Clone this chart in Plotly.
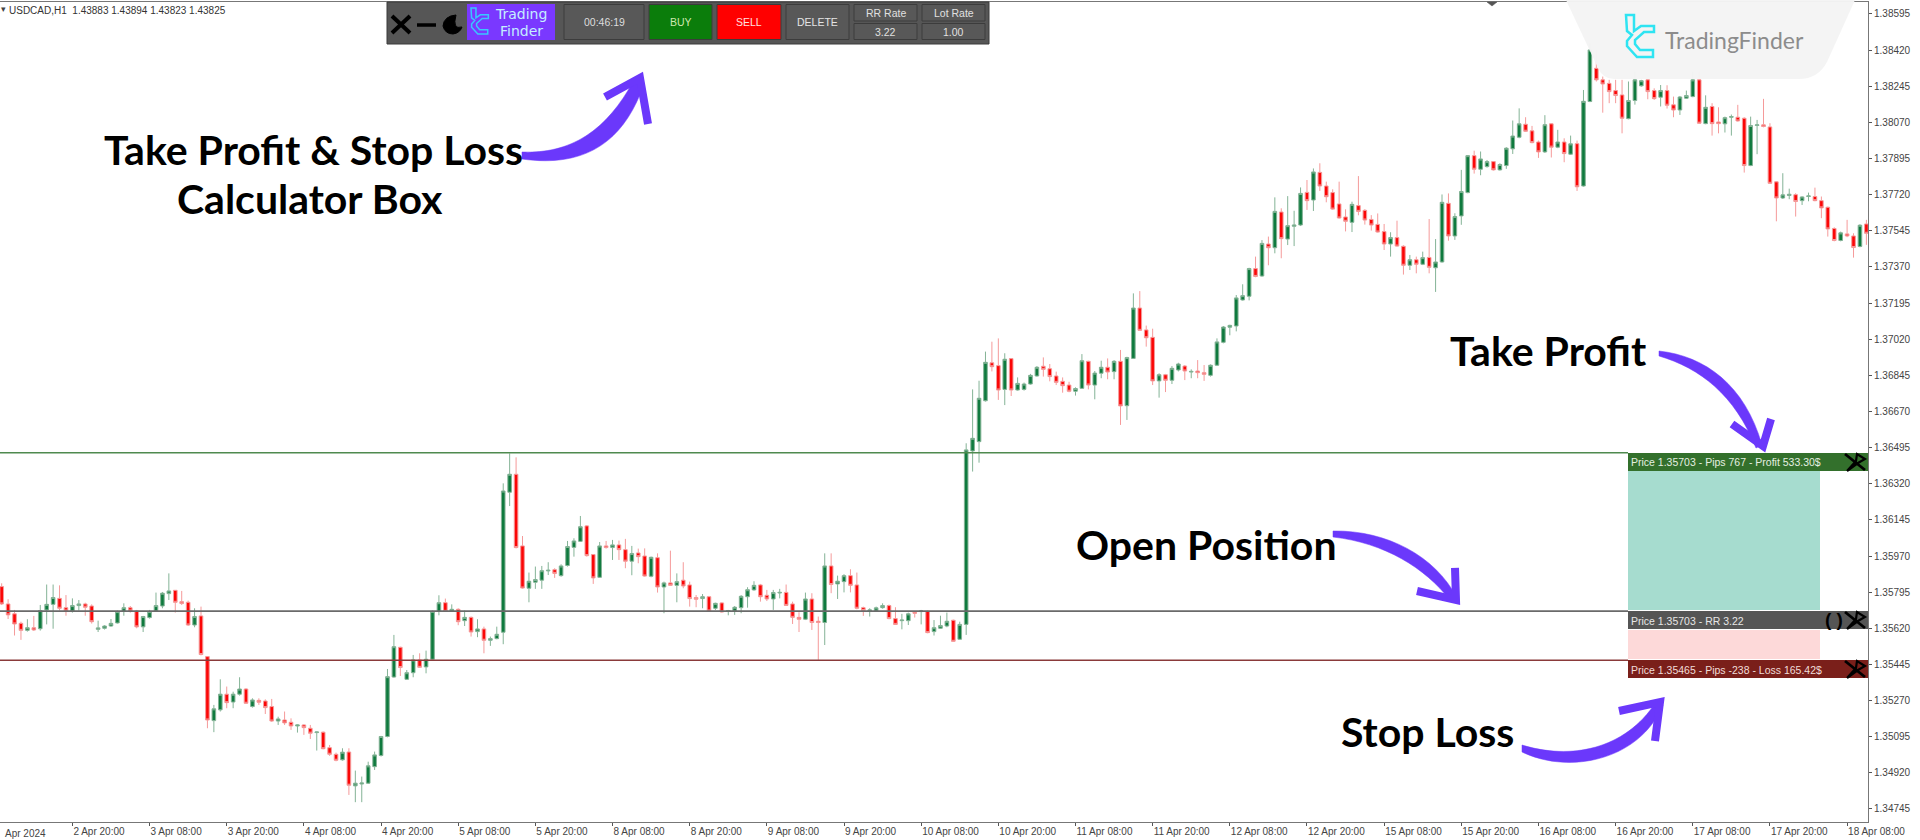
import plotly.graph_objects as go

opens = [1.35822,1.35738,1.35690,1.35644,1.35610,1.35623,1.35618,1.35709,1.35736,1.35765,
1.35720,1.35704,1.35730,1.35738,1.35728,1.35615,1.35620,1.35631,1.35646,1.35702,
1.35720,1.35704,1.35627,1.35672,1.35704,1.35728,1.35788,1.35804,1.35749,1.35746,
1.35636,1.35680,1.35483,1.35173,1.35225,1.35301,1.35263,1.35301,1.35326,1.35241,
1.35271,1.35268,1.35241,1.35171,1.35176,1.35165,1.35147,1.35152,1.35136,1.35115,
1.35117,1.35042,1.35010,1.34983,1.35021,1.34857,1.34866,1.34870,1.34950,1.35004,
1.35096,1.35384,1.35528,1.35373,1.35405,1.35467,1.35433,1.35470,1.35702,1.35744,
1.35702,1.35712,1.35657,1.35673,1.35604,1.35617,1.35562,1.35570,1.35601,1.36279,
1.36366,1.36019,1.35814,1.35843,1.35853,1.35898,1.35904,1.35875,1.35924,1.36012,
1.36041,1.36116,1.35977,1.35867,1.36019,1.36011,1.36024,1.36001,1.35945,1.35985,
1.35970,1.35872,1.35962,1.35820,1.35840,1.35828,1.35853,1.35830,1.35769,1.35764,
1.35773,1.35717,1.35743,1.35702,1.35704,1.35720,1.35773,1.35806,1.35830,1.35780,
1.35762,1.35791,1.35794,1.35738,1.35673,1.35664,1.35762,1.35654,1.35648,1.35922,
1.35835,1.35846,1.35875,1.35830,1.35720,1.35704,1.35704,1.35720,1.35730,1.35667,
1.35657,1.35657,1.35698,1.35701,1.35702,1.35604,1.35620,1.35631,1.35659,1.35567,
1.35639,1.36479,1.36524,1.36722,1.36906,1.36892,1.36777,1.36926,1.36774,1.36777,
1.36803,1.36842,1.36889,1.36877,1.36842,1.36816,1.36798,1.36768,1.36782,1.36913,
1.36798,1.36855,1.36884,1.36863,1.36913,1.36698,1.36927,1.37171,1.37065,1.37029,
1.36818,1.36848,1.36821,1.36871,1.36890,1.36861,1.36866,1.36858,1.36845,1.36894,
1.37005,1.37078,1.37084,1.37210,1.37228,1.37362,1.37326,1.37481,1.37463,1.37636,
1.37505,1.37567,1.37573,1.37731,1.37694,1.37828,1.37762,1.37730,1.37675,1.37612,
1.37586,1.37667,1.37644,1.37600,1.37576,1.37541,1.37481,1.37512,1.37470,1.37378,
1.37405,1.37383,1.37416,1.37366,1.37394,1.37678,1.37520,1.37617,1.37730,1.37909,
1.37843,1.37856,1.37880,1.37840,1.37861,1.37942,1.37998,1.38061,1.38029,1.37975,
1.37927,1.38063,1.37950,1.37975,1.37916,1.37967,1.37762,1.38171,1.38332,1.38276,
1.38259,1.38224,1.38203,1.38088,1.38176,1.38247,1.38276,1.38224,1.38192,1.38224,
1.38155,1.38130,1.38187,1.38195,1.38276,1.38064,1.38147,1.38072,1.38063,1.38095,
1.38095,1.38090,1.37861,1.38055,1.38058,1.38048,1.37782,1.37704,1.37716,1.37720,
1.37691,1.37711,1.37711,1.37691,1.37659,1.37556,1.37498,1.37530,1.37520,1.37469,
1.37578]

highs = [1.35838,1.35761,1.35709,1.35652,1.35664,1.35680,1.35733,1.35832,1.35832,1.35828,
1.35781,1.35765,1.35757,1.35744,1.35736,1.35657,1.35635,1.35665,1.35706,1.35741,
1.35728,1.35709,1.35680,1.35709,1.35793,1.35796,1.35886,1.35804,1.35801,1.35754,
1.35717,1.35725,1.35483,1.35249,1.35373,1.35338,1.35313,1.35383,1.35330,1.35281,
1.35281,1.35276,1.35278,1.35192,1.35217,1.35184,1.35155,1.35155,1.35152,1.35120,
1.35120,1.35055,1.35018,1.35039,1.35039,1.34931,1.34902,1.34974,1.35023,1.35099,
1.35423,1.35588,1.35531,1.35418,1.35491,1.35499,1.35512,1.35706,1.35780,1.35764,
1.35736,1.35717,1.35706,1.35677,1.35664,1.35628,1.35580,1.35628,1.36322,1.36467,
1.36448,1.36067,1.35890,1.35919,1.35922,1.35940,1.35911,1.35930,1.36043,1.36056,
1.36164,1.36120,1.35980,1.36038,1.36043,1.36048,1.36045,1.36053,1.36019,1.36006,
1.36007,1.35967,1.35983,1.35846,1.35996,1.35886,1.35940,1.35846,1.35781,1.35786,
1.35777,1.35744,1.35746,1.35709,1.35728,1.35781,1.35819,1.35848,1.35835,1.35806,
1.35806,1.35811,1.35832,1.35749,1.35698,1.35793,1.35790,1.35677,1.35983,1.35983,
1.35875,1.35882,1.35906,1.35890,1.35725,1.35717,1.35725,1.35741,1.35735,1.35722,
1.35690,1.35696,1.35702,1.35709,1.35706,1.35660,1.35681,1.35696,1.35662,1.35652,
1.36516,1.36777,1.36819,1.36960,1.37008,1.37024,1.36952,1.36929,1.36835,1.36810,
1.36852,1.36890,1.36932,1.36900,1.36863,1.36835,1.36814,1.36787,1.36948,1.36916,
1.36866,1.36916,1.36927,1.36919,1.36968,1.36935,1.37242,1.37253,1.37086,1.37071,
1.36855,1.36852,1.36890,1.36906,1.36895,1.36874,1.36919,1.36895,1.36898,1.37024,
1.37084,1.37090,1.37234,1.37286,1.37366,1.37420,1.37500,1.37517,1.37707,1.37654,
1.37713,1.37642,1.37755,1.37791,1.37847,1.37872,1.37783,1.37746,1.37783,1.37649,
1.37686,1.37810,1.37650,1.37621,1.37629,1.37578,1.37538,1.37594,1.37475,1.37428,
1.37420,1.37444,1.37602,1.37505,1.37721,1.37726,1.37630,1.37840,1.37912,1.37933,
1.37929,1.37888,1.37883,1.37872,1.37950,1.38079,1.38138,1.38095,1.38053,1.37982,
1.38105,1.38066,1.38034,1.37993,1.38006,1.37982,1.38227,1.38453,1.38421,1.38292,
1.38276,1.38276,1.38276,1.38268,1.38316,1.38276,1.38279,1.38235,1.38251,1.38250,
1.38195,1.38198,1.38224,1.38316,1.38316,1.38201,1.38163,1.38143,1.38098,1.38108,
1.38155,1.38095,1.38098,1.38082,1.38184,1.38066,1.37785,1.37824,1.37749,1.37727,
1.37712,1.37730,1.37754,1.37711,1.37662,1.37562,1.37541,1.37598,1.37533,1.37577,
1.37598]

lows = [1.35733,1.35665,1.35585,1.35564,1.35604,1.35607,1.35609,1.35639,1.35618,1.35706,
1.35681,1.35696,1.35706,1.35681,1.35643,1.35602,1.35614,1.35628,1.35643,1.35681,
1.35696,1.35620,1.35602,1.35667,1.35701,1.35717,1.35757,1.35696,1.35733,1.35631,
1.35625,1.35489,1.35136,1.35117,1.35217,1.35233,1.35233,1.35294,1.35254,1.35236,
1.35249,1.35205,1.35167,1.35152,1.35152,1.35128,1.35115,1.35104,1.35084,1.35028,
1.35034,1.35002,1.34976,1.34979,1.34813,1.34778,1.34778,1.34866,1.34934,1.34999,
1.35092,1.35381,1.35389,1.35370,1.35383,1.35428,1.35402,1.35467,1.35683,1.35699,
1.35699,1.35635,1.35631,1.35580,1.35577,1.35499,1.35535,1.35567,1.35543,1.36212,
1.36007,1.35812,1.35746,1.35811,1.35811,1.35878,1.35864,1.35870,1.35919,1.35967,
1.36038,1.35967,1.35835,1.35864,1.36006,1.35951,1.35951,1.35911,1.35877,1.35935,
1.35870,1.35867,1.35793,1.35693,1.35825,1.35746,1.35814,1.35725,1.35722,1.35717,
1.35701,1.35709,1.35696,1.35683,1.35685,1.35693,1.35720,1.35802,1.35749,1.35752,
1.35709,1.35765,1.35728,1.35641,1.35602,1.35660,1.35612,1.35467,1.35539,1.35790,
1.35762,1.35794,1.35794,1.35712,1.35680,1.35677,1.35699,1.35715,1.35664,1.35636,
1.35615,1.35636,1.35672,1.35639,1.35596,1.35585,1.35618,1.35625,1.35554,1.35564,
1.35588,1.36379,1.36422,1.36718,1.36864,1.36726,1.36701,1.36745,1.36771,1.36771,
1.36800,1.36839,1.36839,1.36816,1.36798,1.36761,1.36763,1.36747,1.36779,1.36777,
1.36729,1.36831,1.36826,1.36826,1.36605,1.36629,1.36924,1.37060,1.36984,1.36798,
1.36737,1.36764,1.36803,1.36864,1.36822,1.36831,1.36831,1.36818,1.36839,1.36890,
1.37000,1.37039,1.37058,1.37207,1.37208,1.37320,1.37323,1.37378,1.37436,1.37412,
1.37476,1.37471,1.37568,1.37646,1.37641,1.37738,1.37683,1.37646,1.37604,1.37542,
1.37539,1.37620,1.37575,1.37546,1.37536,1.37452,1.37420,1.37468,1.37333,1.37355,
1.37339,1.37379,1.37339,1.37249,1.37391,1.37497,1.37501,1.37574,1.37727,1.37822,
1.37814,1.37851,1.37837,1.37837,1.37845,1.37917,1.37993,1.38024,1.37969,1.37898,
1.37922,1.37900,1.37945,1.37877,1.37912,1.37738,1.37759,1.38168,1.38268,1.38117,
1.38163,1.38163,1.38017,1.38085,1.38156,1.38243,1.38182,1.38179,1.38147,1.38137,
1.38095,1.38106,1.38184,1.38192,1.38063,1.38061,1.38006,1.38017,1.38021,1.38006,
1.38074,1.37827,1.37858,1.37916,1.38046,1.37772,1.37591,1.37699,1.37698,1.37614,
1.37670,1.37688,1.37688,1.37606,1.37517,1.37494,1.37494,1.37514,1.37415,1.37465,
1.37477]

closes = [1.35738,1.35685,1.35641,1.35610,1.35623,1.35612,1.35706,1.35736,1.35769,1.35717,
1.35704,1.35730,1.35738,1.35722,1.35652,1.35622,1.35631,1.35644,1.35701,1.35720,
1.35704,1.35627,1.35677,1.35701,1.35730,1.35790,1.35801,1.35746,1.35740,1.35636,
1.35677,1.35493,1.35176,1.35230,1.35301,1.35260,1.35301,1.35326,1.35257,1.35273,
1.35262,1.35236,1.35171,1.35181,1.35162,1.35147,1.35152,1.35139,1.35112,1.35118,
1.35037,1.35010,1.34981,1.35020,1.34860,1.34870,1.34871,1.34954,1.35007,1.35096,
1.35386,1.35531,1.35430,1.35405,1.35467,1.35431,1.35470,1.35702,1.35744,1.35702,
1.35712,1.35652,1.35673,1.35602,1.35617,1.35562,1.35570,1.35591,1.36285,1.36366,
1.36011,1.35815,1.35848,1.35856,1.35899,1.35901,1.35886,1.35922,1.36016,1.36043,
1.36112,1.35972,1.35864,1.36019,1.36011,1.36024,1.36001,1.35945,1.35982,1.35967,
1.35873,1.35964,1.35820,1.35840,1.35828,1.35846,1.35825,1.35764,1.35761,1.35773,
1.35704,1.35741,1.35699,1.35706,1.35722,1.35775,1.35807,1.35828,1.35773,1.35762,
1.35793,1.35794,1.35731,1.35673,1.35664,1.35762,1.35648,1.35648,1.35922,1.35832,
1.35848,1.35875,1.35828,1.35717,1.35706,1.35709,1.35719,1.35730,1.35667,1.35639,
1.35660,1.35690,1.35693,1.35704,1.35599,1.35623,1.35633,1.35654,1.35557,1.35639,
1.36484,1.36540,1.36734,1.36908,1.36887,1.36774,1.36923,1.36774,1.36806,1.36803,
1.36845,1.36884,1.36874,1.36839,1.36811,1.36795,1.36768,1.36781,1.36916,1.36798,
1.36856,1.36884,1.36861,1.36913,1.36697,1.36931,1.37171,1.37063,1.37027,1.36818,
1.36848,1.36821,1.36879,1.36900,1.36866,1.36864,1.36858,1.36850,1.36894,1.37007,
1.37079,1.37087,1.37220,1.37231,1.37362,1.37324,1.37484,1.37463,1.37639,1.37507,
1.37570,1.37573,1.37726,1.37691,1.37830,1.37762,1.37710,1.37650,1.37607,1.37591,
1.37673,1.37639,1.37597,1.37573,1.37539,1.37481,1.37512,1.37471,1.37378,1.37405,
1.37383,1.37415,1.37368,1.37394,1.37683,1.37520,1.37614,1.37735,1.37909,1.37843,
1.37893,1.37880,1.37840,1.37866,1.37945,1.38004,1.38063,1.38027,1.37972,1.37927,
1.38059,1.37950,1.37975,1.37919,1.37966,1.37758,1.38172,1.38421,1.38276,1.38256,
1.38219,1.38200,1.38090,1.38176,1.38276,1.38272,1.38219,1.38185,1.38224,1.38153,
1.38130,1.38193,1.38200,1.38276,1.38066,1.38143,1.38064,1.38064,1.38093,1.38098,
1.38077,1.37861,1.38055,1.38058,1.38050,1.37775,1.37704,1.37719,1.37722,1.37687,
1.37709,1.37714,1.37691,1.37656,1.37554,1.37498,1.37535,1.37520,1.37464,1.37572,
1.37533]

bar_index = list(range(len(opens)))

price_ticks = [1.38595,1.38420,1.38245,1.38070,1.37895,1.37720,1.37545,1.37370,1.37195,1.37020,1.36845,
               1.36670,1.36495,1.36320,1.36145,1.35970,1.35795,1.35620,1.35445,1.35270,1.35095,1.34920,1.34745]
time_tick_bars = [11,23,35,47,59,71,83,95,107,119,131,143,155,167,179,191,203,215,227,239,251,263,275,287]
time_tick_labels = ["2 Apr 20:00","3 Apr 08:00","3 Apr 20:00","4 Apr 08:00","4 Apr 20:00","5 Apr 08:00",
                    "5 Apr 20:00","8 Apr 08:00","8 Apr 20:00","9 Apr 08:00","9 Apr 20:00","10 Apr 08:00",
                    "10 Apr 20:00","11 Apr 08:00","11 Apr 20:00","12 Apr 08:00","12 Apr 20:00","15 Apr 08:00",
                    "15 Apr 20:00","16 Apr 08:00","16 Apr 20:00","17 Apr 08:00","17 Apr 20:00","18 Apr 08:00"]
take_profit = 1.36470
entry = 1.35703
stop_loss = 1.35465

PLOT_W, PLOT_H, TOP = 1868, 820, 2
def xp(px): return px / PLOT_W
def yp(py): return (TOP + PLOT_H - py) / PLOT_H

def path(cmds):
    """cmds: list of tuples (letter, px, py, ...) in page pixels -> paper path string"""
    out = []
    for c in cmds:
        if c[0] == "Z":
            out.append("Z"); continue
        nums = c[1:]
        pts = []
        for k in range(0, len(nums), 2):
            pts.append(f"{xp(nums[k]):.5f},{yp(nums[k+1]):.5f}")
        out.append(c[0] + " ".join(pts))
    return " ".join(out)

shapes, annos = [], []
def rect(x0, y0, x1, y1, fill, line=None, lw=0):
    shapes.append(dict(type="rect", xref="paper", yref="paper", x0=xp(x0), x1=xp(x1), y0=yp(y1), y1=yp(y0),
                       fillcolor=fill, line=dict(color=line or fill, width=lw)))
def stroke(cmds, color, w, fill=None):
    shapes.append(dict(type="path", xref="paper", yref="paper", path=path(cmds),
                       line=dict(color=color, width=w), fillcolor=fill or "rgba(0,0,0,0)"))
def text(x, y, s, size, color, family="Liberation Sans", anchor="center"):
    annos.append(dict(xref="paper", yref="paper", x=xp(x), y=yp(y), text=s, showarrow=False, xanchor=anchor,
                      yanchor="middle", align=anchor, font=dict(size=size, color=color, family=family)))

# price levels
for lvl, col in ((take_profit, "#4f8a4f"), (entry, "#6a6a6a"), (stop_loss, "#8a3a3a")):
    shapes.append(dict(type="line", xref="paper", yref="y", x0=0, x1=xp(1628), y0=lvl, y1=lvl,
                       line=dict(color=col, width=1.6)))

# position boxes
rect(1628, 471, 1820, 610, "#a6dccf")
rect(1628, 630, 1820, 659, "#fdd9d9")
rect(1628, 453, 1868, 471, "#33702c")
rect(1628, 611, 1868, 629, "#555555")
rect(1628, 660, 1868, 678, "#7a1f1a")
text(1629, 462.5, "Price 1.35703 - Pips 767 - Profit 533.30$", 10.5, "#e4efe0", anchor="left")
text(1629, 620.5, "Price 1.35703 - RR 3.22", 10.5, "#e6e6e6", anchor="left")
text(1629, 670, "Price 1.35465 - Pips -238 - Loss 165.42$", 10.5, "#f0dcd8", anchor="left")
for cy in (462, 620, 669):
    cx = 1855
    stroke([("M", cx-10, cy-8), ("L", cx+10, cy+8)], "#000000", 2.8)
    stroke([("M", cx-8, cy+9), ("L", cx+1, cy-1), ("L", cx+2, cy-8), ("L", cx+10, cy-3), ("L", cx+3, cy+1), ("L", cx-8, cy+9)], "#000000", 2.2)
text(1834, 619, "<b>( )</b>", 19, "#000000")

# header text
text(-1, 9, "\u25be", 9, "#444444", anchor="left")
text(7, 10, "USDCAD,H1&nbsp; 1.43883 1.43894 1.43823 1.43825", 10, "#333333", anchor="left")
text(3, 833, "Apr 2024", 10, "#444444", anchor="left")

# toolbar
rect(387, 2, 989, 44, "#565656", "#3a3a3a", 1)
stroke([("M", 392, 16), ("L", 410, 33)], "#000000", 4)
stroke([("M", 410, 16), ("L", 392, 33)], "#000000", 4)
stroke([("M", 417, 25), ("L", 436, 25)], "#000000", 3.5)
stroke([("M", 456, 15), ("Q", 444, 16, 443, 26), ("Q", 445, 34, 453, 34), ("Q", 460, 33, 462, 27), ("Q", 452, 30, 456, 15), ("Z",)], "#000000", 1, "#000000")
rect(467, 4, 555, 40, "#7a38ff")
text(521, 13.5, "Trading", 14, "#c4eeff", "DejaVu Sans")
text(521, 31, "Finder", 14, "#c4eeff", "DejaVu Sans")
for x0, x1, fill, label, col in ((564, 644, "#585858", "00:46:19", "#dddddd"),
                                 (649, 712, "#0b7d0b", "BUY", "#cfe8b0"),
                                 (717, 781, "#ff0000", "SELL", "#ffe0e0"),
                                 (786, 849, "#585858", "DELETE", "#e4e4e4")):
    rect(x0, 4.5, x1, 39.5, fill, "#3c3c3c", 1)
    text((x0+x1)/2, 22, label, 10.5, col)
for x0, x1, top, bottom in ((854, 917, "RR Rate", "3.22"), (922, 985, "Lot Rate", "1.00")):
    rect(x0, 4.5, x1, 21, "#585858", "#3c3c3c", 1)
    rect(x0, 23.5, x1, 39.5, "#585858", "#3c3c3c", 1)
    text((x0+x1)/2, 13, top, 10.5, "#e0e0e0")
    text((x0+x1)/2, 32, bottom, 10.5, "#e0e0e0")

# icon outline shared by both logos
ICON = [(0,0),(8,0),(8,16),(15,11),(28,11),(28,17),(18,17),(9,25),(9,29),(14,35),(27,35),(27,42),(11,42),(1,31),(1,26),(6,20),(1,16)]
def icon(ox, oy, k, color, w):
    cmds = [("M" if n == 0 else "L", ox+p[0]*k, oy+p[1]*k) for n, p in enumerate(ICON)] + [("Z",)]
    stroke(cmds, color, w)
icon(471, 8, 0.62, "#38c8ff", 1.5)

# watermark
stroke([("M", 1566, 0), ("L", 1855, 0), ("L", 1827, 62), ("Q", 1818, 79, 1799, 79), ("L", 1614, 79),
        ("Q", 1603, 79, 1598, 68), ("Z",)], "rgba(0,0,0,0)", 0, "rgba(244,244,244,0.97)")
icon(1626, 15, 1.0, "#2ee4f2", 2.5)
text(1734, 40, "TradingFinder", 23, "#8c8c8c", "Lato")

# headlines
HEAD = "Lato"
HSIZE = 41
text(313, 149, "<b>Take Profit & Stop Loss</b>", HSIZE, "#000000", HEAD)
text(310, 198, "<b>Calculator Box</b>", HSIZE, "#000000", HEAD)
text(1548, 350, "<b>Take Profit</b>", HSIZE, "#000000", HEAD)
text(1206, 545, "<b>Open Position</b>", HSIZE, "#000000", HEAD)
text(1427, 731, "<b>Stop Loss</b>", HSIZE, "#000000", HEAD)

# hand drawn arrows
PURPLE = "#6b38fb"
def arrow(body, head):
    stroke(body + [("Z",)], PURPLE, 0.5, PURPLE)
    stroke(head, PURPLE, 8)
arrow([("M", 522, 152), ("C", 570, 154, 606, 132, 634, 80), ("L", 644, 84), ("C", 624, 142, 585, 168, 522, 159)],
      [("M", 605, 97), ("L", 640, 78), ("L", 648, 124)])
arrow([("M", 1659, 351), ("C", 1705, 356, 1745, 385, 1762, 445), ("L", 1756, 448), ("C", 1735, 395, 1700, 368, 1659, 356)],
      [("M", 1732, 424), ("L", 1763, 446), ("L", 1771, 419)])
arrow([("M", 1333, 531), ("C", 1385, 530, 1435, 555, 1457, 598), ("L", 1450, 600), ("C", 1425, 568, 1385, 543, 1333, 537)],
      [("M", 1417, 591), ("L", 1456, 600), ("L", 1455, 568)])
arrow([("M", 1522, 745), ("C", 1570, 760, 1625, 750, 1656, 702), ("L", 1663, 705), ("C", 1640, 760, 1570, 775, 1522, 752)],
      [("M", 1619, 711), ("L", 1660, 702), ("L", 1655, 741)])

# small top marker
stroke([("M", 1487, 2), ("L", 1497, 2), ("L", 1492, 6), ("Z",)], "#555555", 0.5, "#555555")

fig = go.Figure(go.Candlestick(
    x=bar_index, open=opens, high=highs, low=lows, close=closes, whiskerwidth=0,
    increasing=dict(line=dict(color="#84b396", width=1), fillcolor="#0f7a3e"),
    decreasing=dict(line=dict(color="#f59a9a", width=1), fillcolor="#fb0606"),
    hoverinfo="skip", showlegend=False))

AX_FONT = dict(family="Liberation Sans", size=10, color="#444444")
fig.update_layout(
    width=1920, height=840, margin=dict(l=0, r=52, t=2, b=18, pad=0),
    paper_bgcolor="#ffffff", plot_bgcolor="#ffffff", boxgap=0.2, showlegend=False,
    shapes=shapes, annotations=annos,
    xaxis=dict(range=[-0.26, 290.25], rangeslider=dict(visible=False), showgrid=False, zeroline=False,
               tickmode="array", tickvals=time_tick_bars, ticktext=time_tick_labels, ticks="outside", ticklen=3,
               tickcolor="#555555", tickangle=0, ticklabelposition="outside right", tickfont=AX_FONT,
               showline=True, linecolor="#777777", linewidth=1, mirror=True),
    yaxis=dict(range=[1.34682, 1.38653], side="right", showgrid=False, zeroline=False,
               tickmode="array", tickvals=price_ticks, ticktext=[f"{v:.5f}" for v in price_ticks],
               ticks="outside", ticklen=3, tickcolor="#555555", tickfont=AX_FONT,
               showline=True, linecolor="#777777", linewidth=1),
)
fig.write_html("out.html", config=dict(displayModeBar=False, responsive=False),
               post_script="document.body.style.margin='0';document.body.style.overflow='hidden';")
